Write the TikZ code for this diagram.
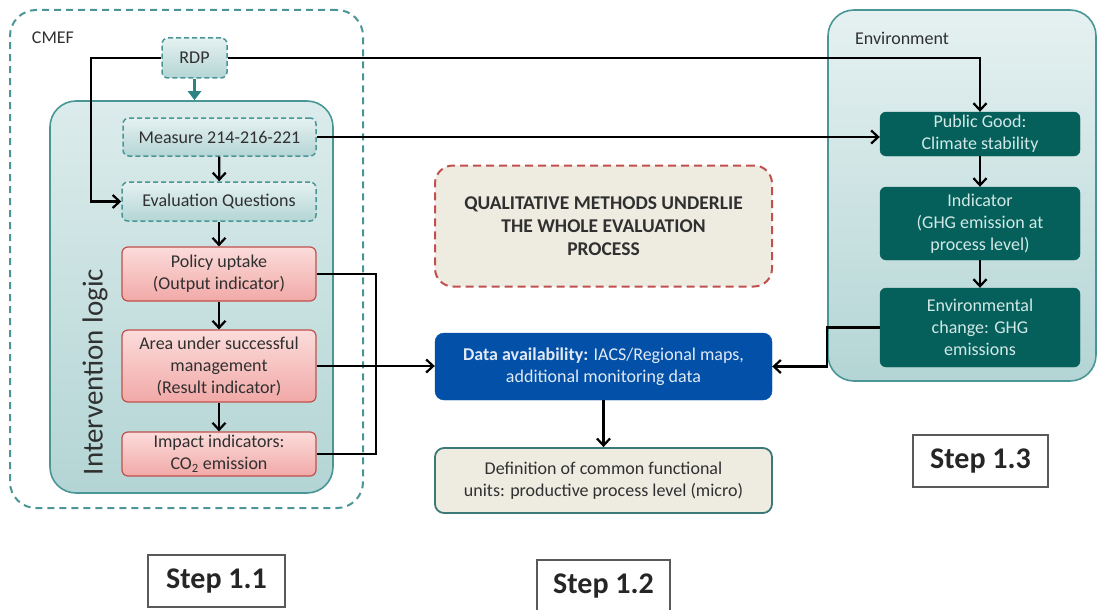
\documentclass[tikz,border=0pt]{standalone}
\usepackage{fontspec}
\setmainfont{Carlito}
\usetikzlibrary{arrows.meta}

\definecolor{tealline}{HTML}{4A9696}
\definecolor{tealarrow}{HTML}{2C8482}
\definecolor{tealdark}{HTML}{05605C}
\definecolor{teallight}{HTML}{E6F1F1}
\definecolor{tealmid}{HTML}{B4D5D5}
\definecolor{tealtext}{HTML}{D2E8E6}
\definecolor{redline}{HTML}{C0504D}
\definecolor{redlight}{HTML}{FBDCDB}
\definecolor{redmid}{HTML}{F1A9A7}
\definecolor{beige}{HTML}{EEECE1}
\definecolor{datablue}{HTML}{0250A8}
\definecolor{datatext}{HTML}{E2E9F4}
\definecolor{darktext}{HTML}{303030}

\begin{document}
\begin{tikzpicture}[x=1pt,y=-1pt,font=\fontsize{18}{22}\selectfont,
  box/.style={rounded corners=6pt,align=center,inner sep=0pt,text=darktext},
  frame/.style={rounded corners=26pt,inner sep=0pt},
  dashbox/.style={box,draw=tealline,line width=1.5pt,dash pattern=on 5pt off 3pt,
    top color=teallight,bottom color=tealmid},
  redbox/.style={box,draw=redline,line width=1.2pt,top color=redlight,bottom color=redmid},
  envbox/.style={box,draw=tealdark,fill=tealdark,text=tealtext},
  stepbox/.style={draw=black!65,line width=1.8pt,inner sep=0pt,
    font=\fontsize{30}{36}\selectfont\bfseries,text=black!85},
  arr/.style={-{Straight Barb[length=7pt,width=13pt,line width=2.2pt]},line width=2.2pt},
  link/.style={line width=2pt},
  tealarr/.style={-{Triangle[length=9pt,width=13pt]},line width=3pt,draw=tealarrow}]
\useasboundingbox (0,0) rectangle (1098,610);

% frames
\node[frame,draw=tealline,line width=2pt,dash pattern=on 7pt off 5pt,
  minimum width=353pt,minimum height=498pt] (cmef) at (186.5,259) {};
\node[text=darktext] (cmeflabel) at (53,38) {CMEF};
\node[frame,draw=tealline,line width=1.6pt,top color=teallight!80!tealmid,bottom color=tealmid,
  minimum width=283pt,minimum height=392pt] (il) at (191.5,297) {};
\node[rotate=90,font=\fontsize{29}{34}\selectfont,text=darktext] (illabel) at (95,372) {Intervention logic};
\node[frame,draw=tealline,line width=1.6pt,top color=teallight,bottom color=tealmid,
  minimum width=268pt,minimum height=371pt] (env) at (962,195.5) {};
\node[text=darktext] (envlabel) at (902,38) {Environment};

% step 1.1
\node[dashbox,minimum width=65pt,minimum height=40pt] (rdp) at (194.5,58) {RDP};
\node[dashbox,minimum width=193pt,minimum height=38pt] (measure) at (219.5,137) {Measure 214-216-221};
\node[dashbox,minimum width=194pt,minimum height=39pt] (evalq) at (219,201.5) {Evaluation Questions};
\node[redbox,minimum width=194pt,minimum height=54pt] (policy) at (219,274) {Policy uptake\\(Output indicator)};
\node[redbox,minimum width=194pt,minimum height=72pt] (area) at (219,366) {Area under successful\\management\\(Result indicator)};
\node[redbox,minimum width=194pt,minimum height=44pt] (impact) at (219,454) {Impact indicators:\\CO\textsubscript{2} emission};

% step 1.2
\node[box,rounded corners=18pt,draw=redline,line width=2pt,dash pattern=on 8pt off 5pt,fill=beige,
  font=\fontsize{19.5}{23}\selectfont\bfseries,minimum width=337pt,minimum height=121pt] (qual) at (603.5,226)
  {QUALITATIVE METHODS UNDERLIE\\THE WHOLE EVALUATION\\PROCESS};
\node[box,rounded corners=9pt,fill=datablue,draw=datablue,text=datatext,
  minimum width=337pt,minimum height=67pt] (data) at (603.5,366.5)
  {\textbf{Data availability:} IACS/Regional maps,\\additional monitoring data};
\node[box,rounded corners=9pt,fill=beige,draw=tealline!80!black,line width=1.8pt,
  minimum width=337pt,minimum height=65pt] (defin) at (603.5,480.5)
  {Definition of common functional\\units: productive process level (micro)};

% step 1.3
\node[envbox,minimum width=200pt,minimum height=44pt] (pubgood) at (980,134) {Public Good:\\Climate stability};
\node[envbox,minimum width=200pt,minimum height=73pt] (indic) at (980,223.5) {Indicator\\(GHG emission at\\process level)};
\node[envbox,minimum width=200pt,minimum height=79pt] (envchg) at (980,327.5) {Environmental\\change: GHG\\emissions};

\node[stepbox,minimum width=137pt,minimum height=52pt] (step11) at (216.5,581) {Step 1.1};
\node[stepbox,minimum width=133pt,minimum height=52pt] (step12) at (603.5,586) {Step 1.2};
\node[stepbox,minimum width=135pt,minimum height=52pt] (step13) at (980.5,461) {Step 1.3};

% connectors
\draw[tealarr] (rdp.south) -- (rdp.south |- il.north);
\draw[arr] (rdp.west) -- ++(-70,0) |- (evalq.west);
\draw[arr] (rdp.east) -| (pubgood.north);
\draw[arr] (measure.east) -- (measure.east -| pubgood.west);
\draw[arr] (measure) -- (evalq);
\draw[arr] (evalq) -- (policy);
\draw[arr] (policy) -- (area);
\draw[arr] (area) -- (impact);
\coordinate (bus) at (376,274);
\draw[link] (policy.east) -- (bus) |- (impact.east);
\draw[arr] (area.east) -- (area.east -| data.west);
\draw[arr] (envchg.west) -- ++(-53,0) |- (data.east);
\draw[arr] (data) -- (defin);
\draw[arr] (pubgood) -- (indic);
\draw[arr] (indic) -- (envchg);
\end{tikzpicture}
\end{document}
